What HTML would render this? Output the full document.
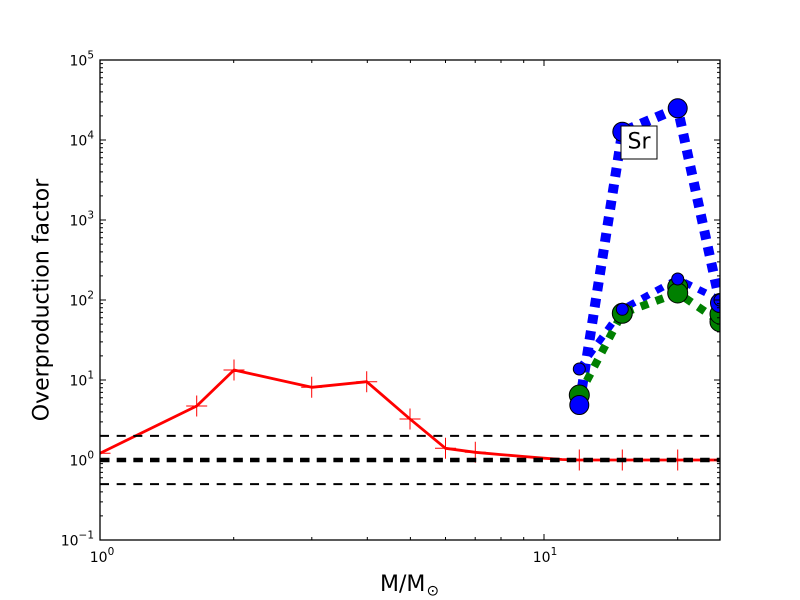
<!DOCTYPE html>
<html>
<head>
<meta charset="utf-8">
<style>
  html, body { margin:0; padding:0; background:#ffffff; }
  svg { display:block; }
  text { font-family: "DejaVu Sans", "Liberation Sans", sans-serif; fill:#000; }
</style>
</head>
<body>
<svg width="800" height="600" viewBox="0 0 800 600" xmlns="http://www.w3.org/2000/svg">
  <defs>
    <clipPath id="ax"><rect x="100" y="60" width="620" height="480"/></clipPath>
  </defs>
  <rect x="0" y="0" width="800" height="600" fill="#ffffff"/>

  <g clip-path="url(#ax)">
    <!-- red line -->
    <polyline fill="none" stroke="#ff0000" stroke-width="2.8" stroke-linejoin="round"
      points="100,453.3 196.7,406 234,370 311.7,387.3 366.7,381.7 410,419 445.5,448.3 475.3,452.3 501,454.6 523.7,456.5 544,458.2 562,459.5 579.3,460 622.3,460 677.7,460 720,460"/>
    <!-- red + markers -->
    <path fill="none" stroke="#ff0000" stroke-width="1"
      d="M89.5 453.3h21M100 442.8v21
         M186.2 406h21M196.7 395.5v21
         M223.5 370h21M234 359.5v21
         M301.2 387.3h21M311.7 376.8v21
         M356.2 381.7h21M366.7 371.2v21
         M399.5 419h21M410 408.5v21
         M435 448.3h21M445.5 437.8v21
         M464.8 452.3h21M475.3 441.8v21
         M568.8 460h21M579.3 449.5v21
         M611.8 460h21M622.3 449.5v21
         M667.2 460h21M677.7 449.5v21
         M709.5 460h21M720 449.5v21"/>

    <!-- black dashed reference lines -->
    <line x1="100" y1="435.9" x2="720" y2="435.9" stroke="#000" stroke-width="2" stroke-dasharray="9 7.67"/>
    <line x1="100" y1="484.1" x2="720" y2="484.1" stroke="#000" stroke-width="2" stroke-dasharray="9 7.67"/>
    <line x1="100" y1="460" x2="720" y2="460" stroke="#000" stroke-width="4.4" stroke-dasharray="9.5 7.17"/>

    <!-- blue dotted lines -->
    <polyline fill="none" stroke="#0000ff" stroke-width="7" stroke-dasharray="8 8"
      points="579.3,369 622.3,309.3 677.7,279 720,300"/>
    <polyline fill="none" stroke="#0000ff" stroke-width="10" stroke-dasharray="9 7.5"
      points="579.3,405 622.3,131.7 677.7,108.3 720,303"/>
    <!-- green dotted line -->
    <polyline fill="none" stroke="#008000" stroke-width="8" stroke-dasharray="8 8"
      points="579.3,395 622.3,313.3 677.7,293 720,321.7"/>

    <!-- green markers -->
    <g fill="#008000" stroke="#000" stroke-width="1">
      <circle cx="579.3" cy="395" r="10"/>
      <circle cx="622.3" cy="313.3" r="10"/>
      <circle cx="677.7" cy="287" r="10"/>
      <circle cx="677.7" cy="293" r="10"/>
      <circle cx="720" cy="321.7" r="10"/>
      <circle cx="720" cy="314" r="10"/>
    </g>
    <!-- blue markers -->
    <g fill="#0000ff" stroke="#000" stroke-width="1">
      <circle cx="579.3" cy="405" r="9.5"/>
      <circle cx="622.3" cy="131.7" r="9.5"/>
      <circle cx="677.7" cy="108.3" r="9.5"/>
      <circle cx="720" cy="303" r="9.5"/>
      <circle cx="579.3" cy="369" r="6"/>
      <circle cx="622.3" cy="309.3" r="6"/>
      <circle cx="677.7" cy="279" r="6"/>
      <circle cx="720" cy="300" r="6"/>
    </g>
  </g>

  <!-- Sr label box -->
  <rect x="621" y="126" width="36" height="33" fill="#ffffff" stroke="#000" stroke-width="1"/>
  <text x="639" y="148.5" font-size="22" text-anchor="middle">Sr</text>

  <!-- axes frame -->
  <rect x="100" y="60" width="620" height="480" fill="none" stroke="#000" stroke-width="1.3"/>

  <!-- ticks -->
  <g stroke="#000" stroke-width="1" fill="none">
    <!-- x major -->
    <path d="M100 540v-6M544 540v-6M100 60v6M544 60v6"/>
    <!-- x minor -->
    <path d="M233.7 540v-3M311.8 540v-3M367.3 540v-3M410.4 540v-3M445.5 540v-3M475.2 540v-3M501 540v-3M523.7 540v-3M677.7 540v-3
             M233.7 60v3M311.8 60v3M367.3 60v3M410.4 60v3M445.5 60v3M475.2 60v3M501 60v3M523.7 60v3M677.7 60v3"/>
    <!-- y major -->
    <path d="M100 60h6M100 140h6M100 220h6M100 300h6M100 380h6M100 460h6M100 540h6
             M720 60h-6M720 140h-6M720 220h-6M720 300h-6M720 380h-6M720 460h-6M720 540h-6"/>
    <!-- y minor left -->
    <path d="M100 515.92h3M100 501.83h3M100 491.84h3M100 484.08h3M100 477.75h3M100 472.39h3M100 467.75h3M100 463.66h3
             M100 435.92h3M100 421.83h3M100 411.84h3M100 404.08h3M100 397.75h3M100 392.39h3M100 387.75h3M100 383.66h3
             M100 355.92h3M100 341.83h3M100 331.84h3M100 324.08h3M100 317.75h3M100 312.39h3M100 307.75h3M100 303.66h3
             M100 275.92h3M100 261.83h3M100 251.84h3M100 244.08h3M100 237.75h3M100 232.39h3M100 227.75h3M100 223.66h3
             M100 195.92h3M100 181.83h3M100 171.84h3M100 164.08h3M100 157.75h3M100 152.39h3M100 147.75h3M100 143.66h3
             M100 115.92h3M100 101.83h3M100 91.84h3M100 84.08h3M100 77.75h3M100 72.39h3M100 67.75h3M100 63.66h3"/>
    <!-- y minor right -->
    <path d="M720 515.92h-3M720 501.83h-3M720 491.84h-3M720 484.08h-3M720 477.75h-3M720 472.39h-3M720 467.75h-3M720 463.66h-3
             M720 435.92h-3M720 421.83h-3M720 411.84h-3M720 404.08h-3M720 397.75h-3M720 392.39h-3M720 387.75h-3M720 383.66h-3
             M720 355.92h-3M720 341.83h-3M720 331.84h-3M720 324.08h-3M720 317.75h-3M720 312.39h-3M720 307.75h-3M720 303.66h-3
             M720 275.92h-3M720 261.83h-3M720 251.84h-3M720 244.08h-3M720 237.75h-3M720 232.39h-3M720 227.75h-3M720 223.66h-3
             M720 195.92h-3M720 181.83h-3M720 171.84h-3M720 164.08h-3M720 157.75h-3M720 152.39h-3M720 147.75h-3M720 143.66h-3
             M720 115.92h-3M720 101.83h-3M720 91.84h-3M720 84.08h-3M720 77.75h-3M720 72.39h-3M720 67.75h-3M720 63.66h-3"/>
  </g>

  <!-- y tick labels -->
  <g font-size="14" text-anchor="end">
    <text x="94" y="65.5">10<tspan dy="-7" font-size="10.5">5</tspan></text>
    <text x="94" y="145.5">10<tspan dy="-7" font-size="10.5">4</tspan></text>
    <text x="94" y="225.5">10<tspan dy="-7" font-size="10.5">3</tspan></text>
    <text x="94" y="305.5">10<tspan dy="-7" font-size="10.5">2</tspan></text>
    <text x="94" y="385.5">10<tspan dy="-7" font-size="10.5">1</tspan></text>
    <text x="94" y="465.5">10<tspan dy="-7" font-size="10.5">0</tspan></text>
    <text x="94" y="545.5">10<tspan dy="-7" font-size="10.5">−1</tspan></text>
  </g>

  <!-- x tick labels -->
  <g font-size="14" text-anchor="middle">
    <text x="102" y="562">10<tspan dy="-7" font-size="10.5">0</tspan></text>
    <text x="545" y="562">10<tspan dy="-7" font-size="10.5">1</tspan></text>
  </g>

  <!-- axis labels -->
  <text transform="translate(48.5,300) rotate(-90)" font-size="22" text-anchor="middle">Overproduction factor</text>
  <text x="380" y="591" font-size="22">M/M<tspan x="426.5" y="595.5" font-size="15">⊙</tspan></text>
</svg>
</body>
</html>
